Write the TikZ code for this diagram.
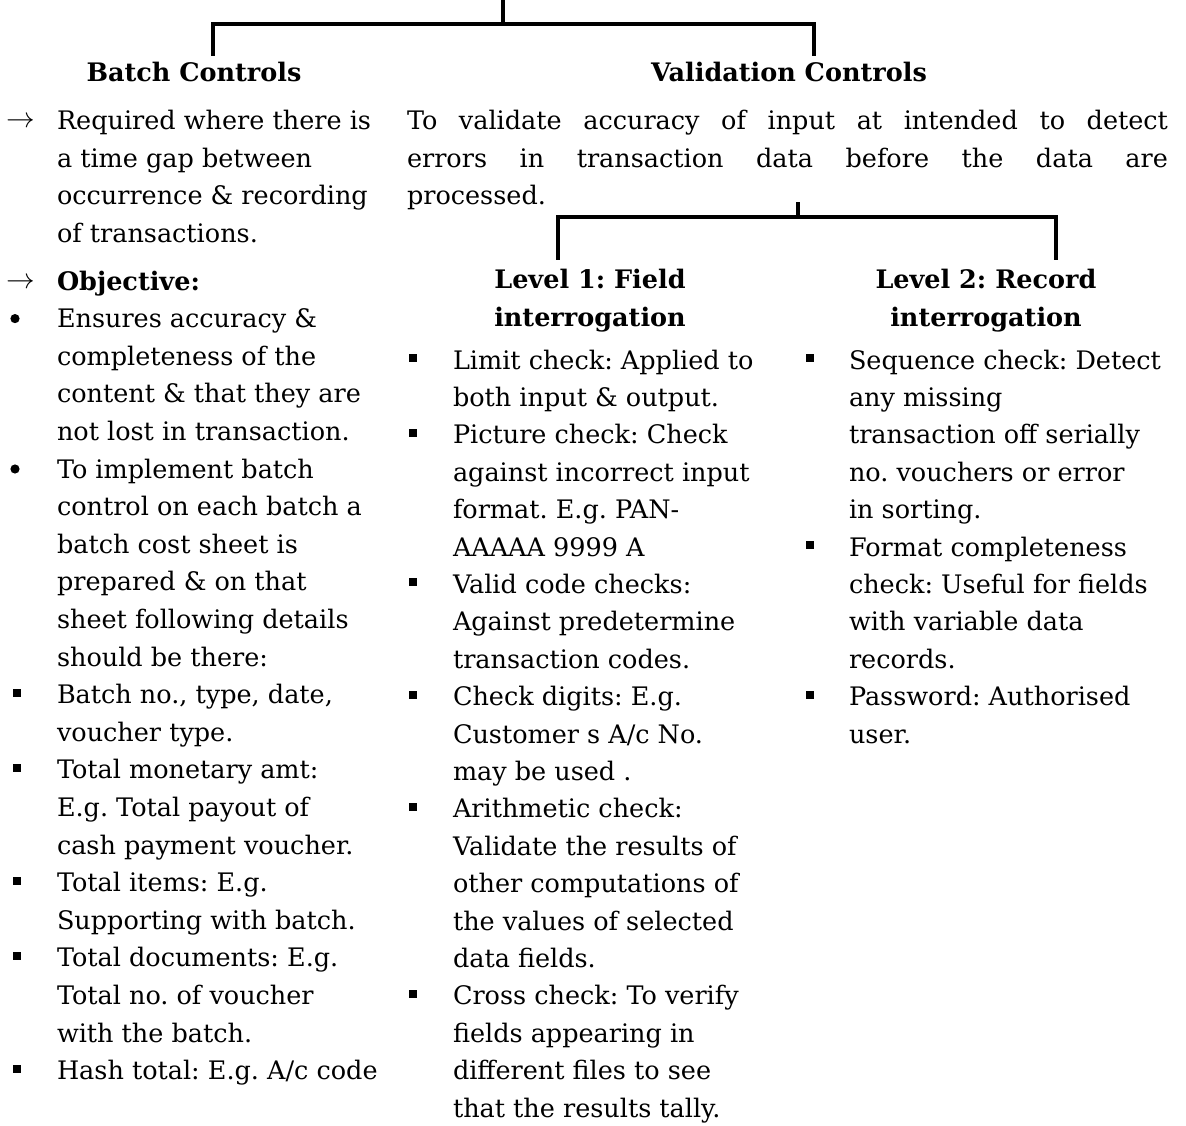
\documentclass[tikz,border=0pt]{standalone}
\usepackage{fontspec}
\setmainfont{DejaVu Serif}
\frenchspacing
\begin{document}
\begin{tikzpicture}[x=1pt,y=-1pt,
  txt/.style={inner sep=0pt, outer sep=0pt, anchor=base west, font=\fontsize{25.5}{30}\selectfont},
  head/.style={inner sep=0pt, outer sep=0pt, anchor=base, font=\fontsize{25.5}{30}\selectfont\bfseries},
  tree/.style={line width=3.4pt, line join=miter, line cap=rect},
  rb/.style={fill=black},
]
\useasboundingbox (0,0) rectangle (1186,1126);
% ---------- tree lines ----------
\coordinate (top) at (503,0);
\coordinate (j1) at (503,24);
\coordinate (bcd) at (213,54);
\coordinate (vcd) at (814,54);
\draw[tree] (top) -- (j1);
\draw[tree] (bcd) -- (bcd |- j1) -- (vcd |- j1) -- (vcd);
\coordinate (s2) at (798,204);
\coordinate (j2) at (798,217);
\coordinate (l1d) at (558,258);
\coordinate (l2d) at (1056,258);
\draw[tree] (s2) -- (j2);
\draw[tree] (l1d) -- (l1d |- j2) -- (l2d |- j2) -- (l2d);
% ---------- headings ----------
\node[head] (bch) at (194,82) {Batch Controls};
\node[head] (vch) at (789,82) {Validation Controls};
\node[head] (l1a) at (590,288) {Level 1: Field};
\node[head] (l1b) at (590,326) {interrogation};
\node[head] (l2a) at (986,288) {Level 2: Record};
\node[head] (l2b) at (986,326) {interrogation};
% ---------- left column ----------
\node[txt] (ar1) at (6,128) {\scalebox{1.15}{$\rightarrow$}};
\node[txt] (b1) at (57,130) {Required where there is};
\node[txt] (b2) at (57,167.5) {a time gap between};
\node[txt] (b3) at (57,205) {occurrence \& recording};
\node[txt] (b4) at (57,242.5) {of transactions.};
\node[txt] (ar2) at (6,288) {\scalebox{1.15}{$\rightarrow$}};
\node[txt,font=\fontsize{25.5}{30}\selectfont\bfseries] (ob) at (57,290) {Objective:};
\foreach \i/\t in {1/{Ensures accuracy \&},2/{completeness of the},3/{content \& that they are},
  4/{not lost in transaction.},5/{To implement batch},6/{control on each batch a},
  7/{batch cost sheet is},8/{prepared \& on that},9/{sheet following details},
  10/{should be there:},11/{Batch no., type, date,},12/{voucher type.},
  13/{Total monetary amt:},14/{E.g. Total payout of},15/{cash payment voucher.},
  16/{Total items: E.g.},17/{Supporting with batch.},18/{Total documents: E.g.},
  19/{Total no. of voucher},20/{with the batch.},21/{Hash total: E.g. A/c code}}
  {\node[txt] (c\i) at (57,{290+37.6*\i}) {\t};}
\foreach \i in {1,5} {\fill[rb] (15,{290+37.6*\i-9}) circle (4.6);}
\foreach \i in {11,13,16,18,21} {\fill[rb] (13,{290+37.6*\i-15}) rectangle (21,{290+37.6*\i-7});}
% ---------- validation text ----------
\node[txt] (v1) at (407,130) {\makebox[761pt][s]{To validate accuracy of input at intended to detect}};
\node[txt] (v2) at (407,167.5) {\makebox[761pt][s]{errors in transaction data before the data are}};
\node[txt] (v3) at (407,205) {processed.};
% ---------- level 1 ----------
\foreach \i/\t in {0/{Limit check: Applied to},1/{both input \& output.},2/{Picture check: Check},
  3/{against incorrect input},4/{format. E.g. PAN-},5/{AAAAA 9999 A},6/{Valid code checks:},
  7/{Against predetermine},8/{transaction codes.},9/{Check digits: E.g.},10/{Customer s A/c No.},
  11/{may be used .},12/{Arithmetic check:},13/{Validate the results of},14/{other computations of},
  15/{the values of selected},16/{data fields.},17/{Cross check: To verify},18/{fields appearing in},
  19/{different files to see},20/{that the results tally.}}
  {\node[txt] (f\i) at (453,{369+37.4*\i}) {\t};}
\foreach \i in {0,2,6,9,12,17} {\fill[rb] (409,{369+37.4*\i-15}) rectangle (417,{369+37.4*\i-7});}
% ---------- level 2 ----------
\foreach \i/\t in {0/{Sequence check: Detect},1/{any missing},2/{transaction off serially},
  3/{no. vouchers or error},4/{in sorting.},5/{Format completeness},6/{check: Useful for fields},
  7/{with variable data},8/{records.},9/{Password: Authorised},10/{user.}}
  {\node[txt] (r\i) at (849,{369+37.4*\i}) {\t};}
\foreach \i in {0,5,9} {\fill[rb] (806,{369+37.4*\i-15}) rectangle (814,{369+37.4*\i-7});}
\end{tikzpicture}
\end{document}
